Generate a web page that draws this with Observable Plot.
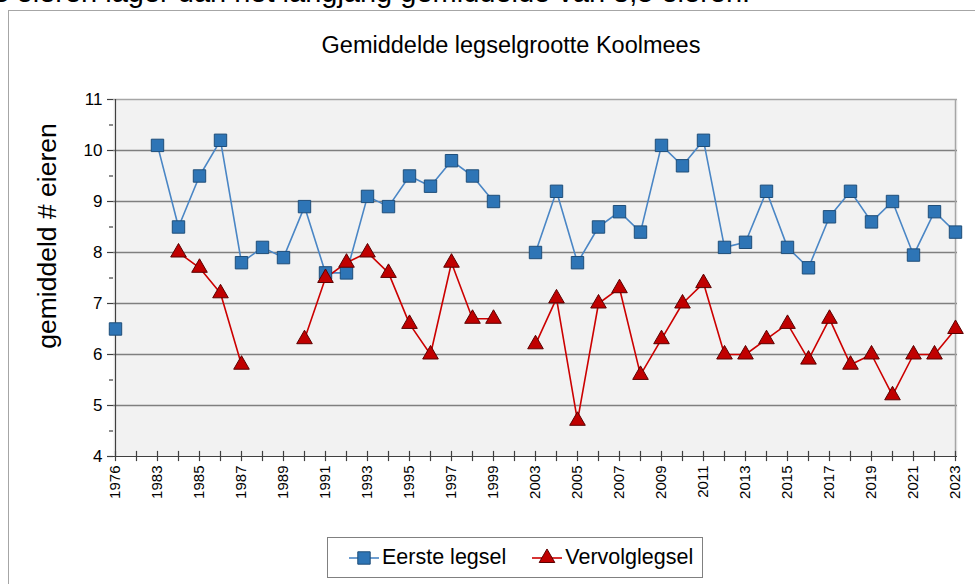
<!DOCTYPE html>
<html>
<head>
<meta charset="utf-8">
<script src="https://cdn.jsdelivr.net/npm/d3@7"></script>
<script src="https://cdn.jsdelivr.net/npm/@observablehq/plot@0.6"></script>
<style>
  html, body { margin: 0; padding: 0; background: #fff; }
  #wrap { position: relative; width: 975px; height: 584px; overflow: hidden; font-family: "Liberation Sans", Arial, sans-serif; }
  #toptext { position: absolute; left: -6px; top: -22px; font-size: 29px; line-height: 29px; white-space: nowrap; color: #000; }
  #chartframe { position: absolute; left: 8px; top: 10px; width: 1100px; height: 1000px; border: 1.5px solid #a6a6a6; }
  #plot { position: absolute; left: 0; top: 0; }
  #ylabel { position: absolute; left: 47px; top: 236px; transform: translate(-50%, -50%) rotate(-90deg); font-size: 26.5px; white-space: nowrap; color: #000; }
  #title { position: absolute; left: 511px; top: 45px; transform: translate(-50%, -50%); font-size: 23.5px; white-space: nowrap; color: #000; }
  #legend { position: absolute; left: 327px; top: 537px; width: 374px; height: 39px; border: 1.5px solid #808080; background: #fff; display: flex; align-items: center; font-size: 21.5px; }
  #legend .item { display: flex; align-items: center; }
  #legend svg { display: block; }
</style>
</head>
<body>
<div id="wrap">
  <div id="toptext">s eieren lager dan het langjarig gemiddelde van 8,5 eieren.</div>
  <div id="chartframe"></div>
  <div id="plot"></div>
  <div id="title"></div>
  <div id="ylabel"></div>
  <div id="legend"></div>
</div>
<script>
const years = ["1976", "1977-1982", "1983", "1984", "1985", "1986", "1987", "1988", "1989", "1990",
  "1991", "1992", "1993", "1994", "1995", "1996", "1997", "1998", "1999", "2000-2002",
  "2003", "2004", "2005", "2006", "2007", "2008", "2009", "2010", "2011", "2012",
  "2013", "2014", "2015", "2016", "2017", "2018", "2019", "2020", "2021", "2022", "2023"];

const eersteLegsel = [6.5, null, 10.1, 8.5, 9.5, 10.2, 7.8, 8.1, 7.9, 8.9,
  7.6, 7.6, 9.1, 8.9, 9.5, 9.3, 9.8, 9.5, 9.0, null,
  8.0, 9.2, 7.8, 8.5, 8.8, 8.4, 10.1, 9.7, 10.2, 8.1,
  8.2, 9.2, 8.1, 7.7, 8.7, 9.2, 8.6, 9.0, 7.95, 8.8, 8.4];

const vervolglegsel = [null, null, null, 8.0, 7.7, 7.2, 5.8, null, null, 6.3,
  7.5, 7.8, 8.0, 7.6, 6.6, 6.0, 7.8, 6.7, 6.7, null,
  6.2, 7.1, 4.7, 7.0, 7.3, 5.6, 6.3, 7.0, 7.4, 6.0,
  6.0, 6.3, 6.6, 5.9, 6.7, 5.8, 6.0, 5.2, 6.0, 6.0, 6.5];

const yTicks = [4, 5, 6, 7, 8, 9, 10, 11];
const yMinorTicks = [4.5, 5.5, 6.5, 7.5, 8.5, 9.5, 10.5];
const gridValues = [5, 6, 7, 8, 9, 10];

const title = "Gemiddelde legselgrootte Koolmees";
const yLabel = "gemiddeld # eieren";
const seriesNames = ["Eerste legsel", "Vervolglegsel"];

const blueLine = "#4a86c5", blueFill = "#2e75b6", blueStroke = "#1f4e79";
const redLine = "#cc0000", redFill = "#c00000", redStroke = "#5a0000";

document.getElementById("title").textContent = title;
document.getElementById("ylabel").textContent = yLabel;

const data = years.map((year, i) => ({year, eerste: eersteLegsel[i], vervolg: vervolglegsel[i]}));

const chart = Plot.plot({
  width: 975,
  height: 584,
  marginLeft: 113,
  marginRight: 18,
  marginTop: 99,
  marginBottom: 128,
  style: {fontFamily: "'Liberation Sans', Arial, sans-serif", background: "transparent", color: "#000"},
  x: {type: "point", domain: years, padding: 0},
  y: {domain: [4, 11]},
  marks: [
    Plot.frame({fill: "#f2f2f2", stroke: null}),
    Plot.ruleY(gridValues, {stroke: "#7f7f7f", strokeWidth: 1.5}),
    Plot.ruleY([11], {stroke: "#a6a6a6", strokeWidth: 1.5}),
    Plot.ruleX([years[years.length - 1]], {stroke: "#a6a6a6", strokeWidth: 1.5}),
    Plot.ruleX([years[0]], {stroke: "#404040", strokeWidth: 1.2}),
    Plot.ruleY([4], {stroke: "#404040", strokeWidth: 1.2}),
    Plot.ruleX(years, {x: d => d, y1: 3.9, y2: 4.1, stroke: "#404040", strokeWidth: 1.2}),
    Plot.axisY({ticks: yTicks, tickSize: 6, tickPadding: 5, fontSize: 17, label: null, stroke: "#404040", strokeWidth: 1.2, fill: "#000",
      tickFormat: d => String(d)}),
    Plot.axisY({ticks: yMinorTicks, tickSize: 4, tickFormat: () => "", label: null, stroke: "#404040", strokeWidth: 1.2}),
    Plot.axisX({ticks: years, tickSize: 0, tickPadding: 9, tickRotate: -90, fontSize: 15, label: null, fill: "#000",
      tickFormat: d => (years.indexOf(d) % 2 === 0 ? d : "")}),
    Plot.line(data, {x: "year", y: "eerste", stroke: blueLine, strokeWidth: 1.6}),
    Plot.line(data, {x: "year", y: "vervolg", stroke: redLine, strokeWidth: 1.6}),
    Plot.dot(data, {x: "year", y: "eerste", symbol: "square", r: 7, fill: blueFill, stroke: blueStroke, strokeWidth: 1}),
    Plot.dot(data, {x: "year", y: "vervolg", symbol: "triangle", r: 5.8, fill: redFill, stroke: redStroke, strokeWidth: 1})
  ]
});
document.getElementById("plot").appendChild(chart);

// Legend
const legend = document.getElementById("legend");
const symbols = [
  {name: seriesNames[0], line: blueLine, fill: blueFill, stroke: blueStroke, type: d3.symbolSquare, size: Math.PI * 7 * 7, ml: 21},
  {name: seriesNames[1], line: redLine, fill: redFill, stroke: redStroke, type: d3.symbolTriangle, size: Math.PI * 5.8 * 5.8, ml: 26}
];
for (const s of symbols) {
  const item = document.createElement("div");
  item.className = "item";
  item.style.marginLeft = s.ml + "px";
  const svg = d3.create("svg").attr("width", 30).attr("height", 20);
  svg.append("line").attr("x1", 0).attr("x2", 30).attr("y1", 10).attr("y2", 10).attr("stroke", s.line).attr("stroke-width", 1.6);
  svg.append("path").attr("d", d3.symbol(s.type, s.size)()).attr("transform", "translate(15,10)")
    .attr("fill", s.fill).attr("stroke", s.stroke).attr("stroke-width", 1);
  item.appendChild(svg.node());
  const label = document.createElement("span");
  label.textContent = s.name;
  label.style.marginLeft = "3px";
  item.appendChild(label);
  legend.appendChild(item);
}
</script>
</body>
</html>
